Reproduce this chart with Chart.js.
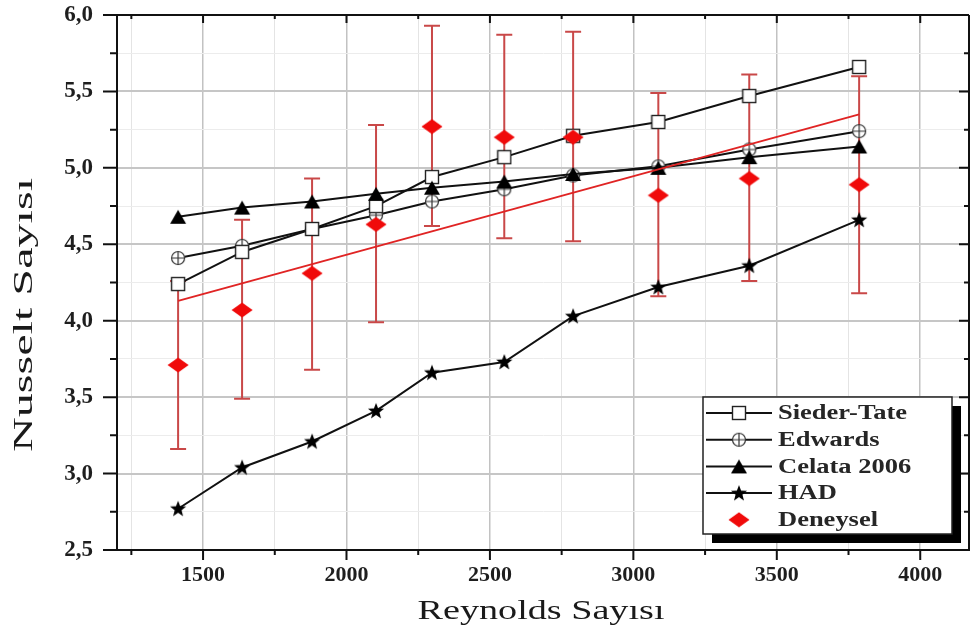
<!DOCTYPE html>
<html>
<head>
<meta charset="utf-8">
<script src="https://cdn.jsdelivr.net/npm/chart.js@4.4.0/dist/chart.umd.min.js"></script>
<style>
  html, body { margin: 0; padding: 0; background: #fff; }
</style>
</head>
<body>
<canvas id="chart" width="972" height="630"></canvas>
<script>
// values
const reynolds   = [1413, 1636, 1880, 2103, 2298, 2550, 2790, 3087, 3404, 3787];
const siederTate = [4.24, 4.45, 4.60, 4.75, 4.94, 5.07, 5.21, 5.30, 5.47, 5.66];
const edwards    = [4.41, 4.49, 4.60, 4.69, 4.78, 4.86, 4.95, 5.01, 5.12, 5.24];
const celata     = [4.68, 4.74, 4.78, 4.83, 4.87, 4.91, 4.96, 5.00, 5.07, 5.14];
const had        = [2.77, 3.04, 3.21, 3.41, 3.66, 3.73, 4.03, 4.22, 4.36, 4.66];
const deneysel   = [3.71, 4.07, 4.31, 4.63, 5.27, 5.20, 5.20, 4.82, 4.93, 4.89];
const errHigh    = [4.26, 4.66, 4.93, 5.28, 5.93, 5.87, 5.89, 5.49, 5.61, 5.60];
const errLow     = [3.16, 3.49, 3.68, 3.99, 4.62, 4.54, 4.52, 4.16, 4.26, 4.18];
const fitX = [1413, 3787];
const fitY = [4.13, 5.35];
const seriesNames = ['Sieder-Tate', 'Edwards', 'Celata 2006', 'HAD', 'Deneysel'];

// major + minor tick positions on the Reynolds axis
const xTicks = [1250, 1500, 1750, 2000, 2250, 2500, 2750, 3000, 3250, 3500, 3750, 4000];

const xTitle = 'Reynolds Sayısı';
const yTitle = 'Nusselt Sayısı';

const pts = (ys, xs = reynolds) => xs.map((x, i) => ({ x: x, y: ys[i] }));

function marker(w, h, draw) {
  const c = document.createElement('canvas');
  c.width = w; c.height = h;
  draw(c.getContext('2d'), w, h);
  return c;
}

const squareImg = marker(16, 16, (g) => {
  g.fillStyle = '#fff'; g.strokeStyle = '#222'; g.lineWidth = 1.4;
  g.fillRect(1.5, 1.5, 13, 13); g.strokeRect(1.5, 1.5, 13, 13);
});
const circleImg = marker(16, 16, (g) => {
  g.fillStyle = '#fff'; g.strokeStyle = '#333'; g.lineWidth = 1.2;
  g.beginPath(); g.arc(8, 8, 6.5, 0, Math.PI * 2); g.fill(); g.stroke();
  g.beginPath(); g.moveTo(1.5, 8); g.lineTo(14.5, 8); g.moveTo(8, 1.5); g.lineTo(8, 14.5); g.stroke();
});
const triangleImg = marker(18, 16, (g) => {
  g.fillStyle = '#000';
  g.beginPath(); g.moveTo(9, 1); g.lineTo(17, 15); g.lineTo(1, 15); g.closePath(); g.fill();
});
const starImg = marker(18, 18, (g) => {
  g.fillStyle = '#000';
  g.beginPath();
  for (let i = 0; i < 10; i++) {
    const a = -Math.PI / 2 + i * Math.PI / 5;
    const r = i % 2 === 0 ? 8.5 : 3.6;
    g.lineTo(9 + r * Math.cos(a), 9.5 + r * Math.sin(a));
  }
  g.closePath(); g.fill();
});
const diamondImg = marker(22, 16, (g) => {
  g.fillStyle = '#f00a0a';
  g.beginPath(); g.moveTo(11, 0.5); g.lineTo(21.5, 8); g.lineTo(11, 15.5); g.lineTo(0.5, 8); g.closePath(); g.fill();
});

const isMajorX = v => v % 500 === 0;
const isMajorY = v => Math.abs(v * 2 - Math.round(v * 2)) < 1e-9;

const errorBars = {
  id: 'errorBars',
  beforeDatasetsDraw(chart) {
    const { ctx, scales: { x, y } } = chart;
    ctx.save();
    ctx.strokeStyle = '#c94848';
    ctx.lineWidth = 2;
    reynolds.forEach((re, i) => {
      const px = x.getPixelForValue(re);
      const top = y.getPixelForValue(errHigh[i]);
      const bot = y.getPixelForValue(errLow[i]);
      ctx.beginPath();
      ctx.moveTo(px, top); ctx.lineTo(px, bot);
      ctx.moveTo(px - 8, top); ctx.lineTo(px + 8, top);
      ctx.moveTo(px - 8, bot); ctx.lineTo(px + 8, bot);
      ctx.stroke();
    });
    ctx.restore();
  }
};

// frame with ticks, axis titles and the boxed legend
const frame = {
  id: 'frame',
  afterDraw(chart) {
    const { ctx, chartArea: a, scales: { x, y } } = chart;
    ctx.save();
    ctx.strokeStyle = '#111';
    ctx.lineWidth = 2;
    ctx.beginPath();
    ctx.moveTo(a.left - 1, a.top); ctx.lineTo(a.right, a.top);
    ctx.moveTo(a.right, a.top); ctx.lineTo(a.right, a.bottom);
    y.ticks.forEach(t => {
      const py = y.getPixelForValue(t.value);
      const major = isMajorY(t.value);
      ctx.moveTo(a.left - (major ? 14 : 7), py); ctx.lineTo(a.left, py);
      ctx.moveTo(a.right - (major ? 10 : 5), py); ctx.lineTo(a.right, py);
    });
    x.ticks.forEach(t => {
      const px = x.getPixelForValue(t.value);
      const major = isMajorX(t.value);
      ctx.moveTo(px, a.bottom); ctx.lineTo(px, a.bottom + (major ? 10 : 5));
      ctx.moveTo(px, a.top); ctx.lineTo(px, a.top + (major ? 8 : 4));
    });
    ctx.stroke();

    // axis titles
    ctx.fillStyle = '#1a1a1a';
    ctx.font = '27px "Liberation Serif"';
    let w = ctx.measureText(xTitle).width;
    ctx.save();
    ctx.translate(541, 619);
    ctx.scale(247 / w, 1);
    ctx.textAlign = 'center';
    ctx.textBaseline = 'alphabetic';
    ctx.fillText(xTitle, 0, 0);
    ctx.restore();

    ctx.font = '28px "Liberation Serif"';
    w = ctx.measureText(yTitle).width;
    ctx.save();
    ctx.translate(32, 315);
    ctx.rotate(-Math.PI / 2);
    ctx.scale(274 / w, 1);
    ctx.textAlign = 'center';
    ctx.textBaseline = 'alphabetic';
    ctx.fillText(yTitle, 0, 0);
    ctx.restore();

    // legend box
    const bx = 703, by = 397, bw = 249, bh = 137;
    ctx.fillStyle = '#000';
    ctx.fillRect(bx + 9, by + 9, bw, bh);
    ctx.fillStyle = '#fff';
    ctx.fillRect(bx, by, bw, bh);
    ctx.lineWidth = 1.5;
    ctx.strokeStyle = '#222';
    ctx.strokeRect(bx, by, bw, bh);

    ctx.font = 'bold 20px "Liberation Serif"';
    const sx = 129 / ctx.measureText('Sieder-Tate').width;
    const rows = [0, 1, 2, 3, 4];
    rows.forEach((di, r) => {
      const ds = chart.data.datasets[di];
      const cy = 413 + r * 26.7;
      if (ds.showLine !== false) {
        ctx.strokeStyle = '#111';
        ctx.lineWidth = 2;
        ctx.beginPath(); ctx.moveTo(706, cy); ctx.lineTo(772, cy); ctx.stroke();
      }
      const img = ds.pointStyle;
      ctx.drawImage(img, 739 - img.width / 2, cy - img.height / 2);
      ctx.save();
      ctx.translate(778, cy + 1);
      ctx.scale(sx, 1);
      ctx.fillStyle = '#262626';
      ctx.textAlign = 'left';
      ctx.textBaseline = 'middle';
      ctx.fillText(ds.label, 0, 0);
      ctx.restore();
    });
    ctx.restore();
  }
};

const lineSet = (label, ys, img, order) => ({
  label: label,
  data: pts(ys),
  borderColor: '#111',
  borderWidth: 2,
  pointStyle: img,
  pointRadius: 8,
  order: order
});

new Chart(document.getElementById('chart'), {
  type: 'line',
  data: {
    datasets: [
      lineSet(seriesNames[0], siederTate, squareImg, 3),
      lineSet(seriesNames[1], edwards, circleImg, 4),
      lineSet(seriesNames[2], celata, triangleImg, 2),
      lineSet(seriesNames[3], had, starImg, 5),
      {
        label: seriesNames[4],
        data: pts(deneysel),
        showLine: false,
        pointStyle: diamondImg,
        pointRadius: 9,
        order: 0
      },
      {
        label: 'fit',
        data: pts(fitY, fitX),
        borderColor: '#e02424',
        borderWidth: 2,
        pointRadius: 0,
        order: 1
      }
    ]
  },
  options: {
    responsive: false,
    animation: false,
    layout: { autoPadding: false, padding: { top: 15, right: 3, left: 0, bottom: 0 } },
    plugins: { legend: { display: false }, tooltip: { enabled: false } },
    scales: {
      x: {
        type: 'linear',
        min: 1200,
        max: 4170,
        afterBuildTicks: s => { s.ticks = xTicks.map(v => ({ value: v })); },
        afterFit: s => { s.height = 80; s.paddingLeft = 0; s.paddingRight = 0; },
        border: { display: true, color: '#111', width: 2 },
        grid: {
          drawTicks: false,
          color: c => isMajorX(c.tick.value) ? '#c2c2c2' : '#e4e4e4',
          lineWidth: c => isMajorX(c.tick.value) ? 1.5 : 1
        },
        ticks: {
          autoSkip: false,
          maxRotation: 0,
          padding: 12,
          color: '#1e1e1e',
          font: { family: '"Liberation Serif"', size: 22, weight: 'bold' },
          callback: v => isMajorX(v) ? String(v) : ''
        }
      },
      y: {
        min: 2.5,
        max: 6.0,
        afterFit: s => { s.width = 117; s.paddingTop = 0; s.paddingBottom = 0; },
        border: { display: true, color: '#111', width: 2 },
        grid: {
          drawTicks: false,
          color: c => isMajorY(c.tick.value) ? '#c6c6c6' : '#ececec',
          lineWidth: c => isMajorY(c.tick.value) ? 2 : 1
        },
        ticks: {
          stepSize: 0.25,
          autoSkip: false,
          padding: 24,
          color: '#1e1e1e',
          font: { family: '"Liberation Serif"', size: 23, weight: 'bold' },
          callback: v => isMajorY(v) ? v.toFixed(1).replace('.', ',') : ''
        }
      }
    }
  },
  plugins: [errorBars, frame]
});
</script>
</body>
</html>
